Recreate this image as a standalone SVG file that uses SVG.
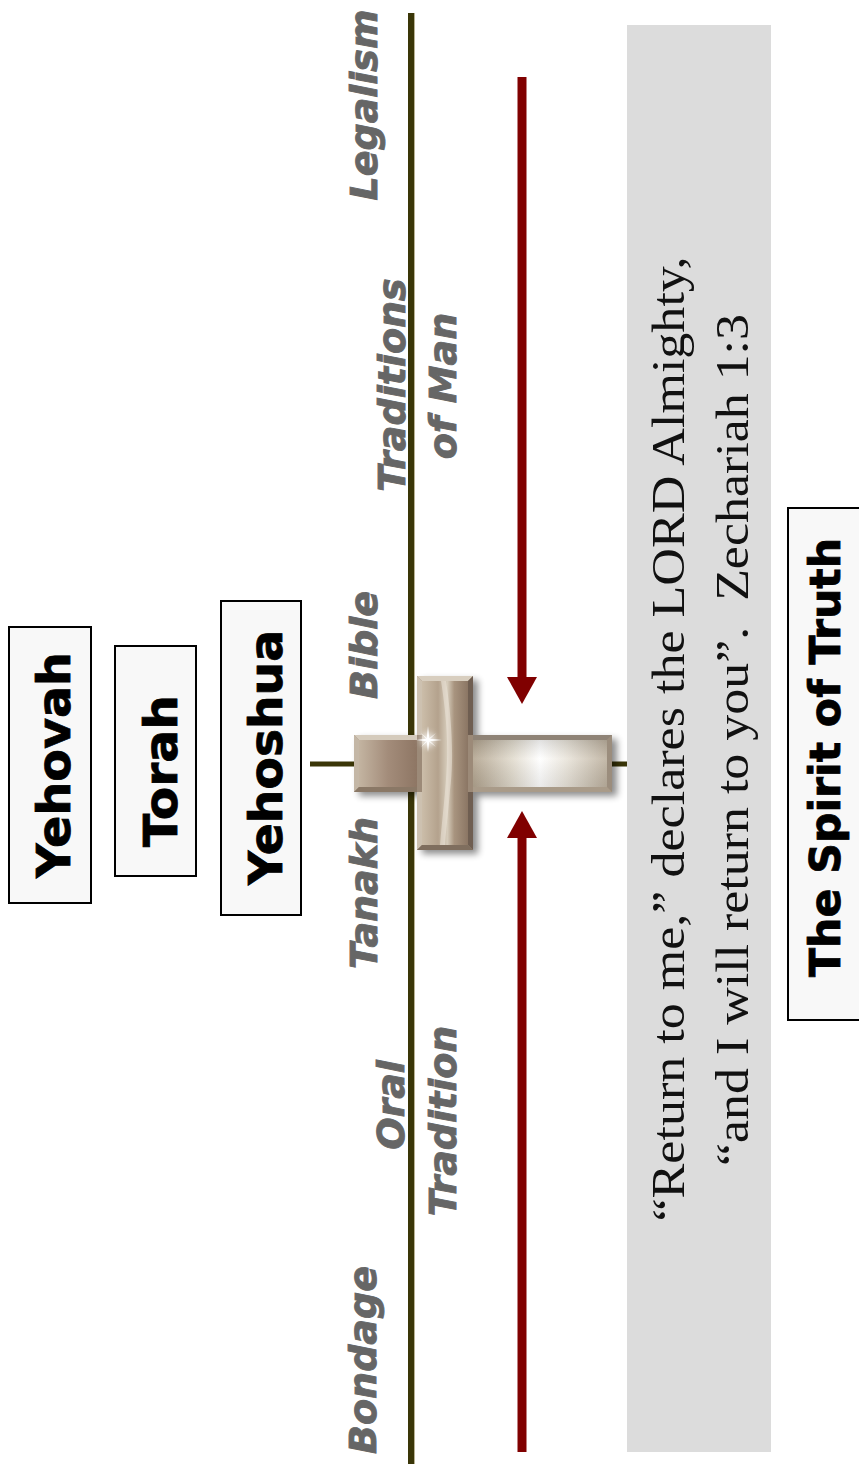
<svg xmlns="http://www.w3.org/2000/svg" width="859" height="1465" viewBox="0 0 859 1465">
<defs>
<style>
.box{fill:#f8f8f8;stroke:#000;stroke-width:2}
.bt{font-family:"DejaVu Sans",Verdana,sans-serif;font-weight:bold;font-size:47px;fill:#000;stroke:#000;stroke-width:0.8;text-anchor:middle}
.lbl{font-family:"DejaVu Sans",Verdana,sans-serif;font-weight:bold;font-style:italic;font-size:38px;fill:#666666;stroke:#666666;stroke-width:0.9;text-anchor:middle}
.q{font-family:"Liberation Serif","Times New Roman",serif;font-size:46px;fill:#111;text-anchor:middle}
.olive{stroke:#3a3608;fill:none}
.red{stroke:#800000;stroke-width:9;fill:none;marker-end:url(#ah)}
</style>
<marker id="ah" markerUnits="userSpaceOnUse" markerWidth="27" markerHeight="30" refX="0" refY="15" orient="auto" viewBox="0 0 27 30">
<path d="M0,0 L27,15 L0,30 z" fill="#800000"/>
</marker>
<filter id="sh" x="-20%" y="-20%" width="140%" height="140%"><feGaussianBlur stdDeviation="3.5"/></filter>
<filter id="glow" x="-100%" y="-100%" width="300%" height="300%"><feGaussianBlur stdDeviation="3"/></filter>
<linearGradient id="gLeft" x1="359" y1="0" x2="417" y2="0" gradientUnits="userSpaceOnUse">
<stop offset="0" stop-color="#c3b4a1"/><stop offset="0.5" stop-color="#a38c7a"/><stop offset="1" stop-color="#8e7664"/>
</linearGradient>
<linearGradient id="gRight" x1="473" y1="0" x2="607" y2="0" gradientUnits="userSpaceOnUse">
<stop offset="0" stop-color="#b3a590"/><stop offset="0.3" stop-color="#e2dccf"/><stop offset="0.5" stop-color="#ffffff"/><stop offset="0.7" stop-color="#e9e4da"/><stop offset="1" stop-color="#bdb19f"/>
</linearGradient>
<linearGradient id="gArmV" x1="0" y1="740" x2="0" y2="787" gradientUnits="userSpaceOnUse">
<stop offset="0" stop-color="#000" stop-opacity="0.12"/><stop offset="0.4" stop-color="#fff" stop-opacity="0.1"/><stop offset="1" stop-color="#000" stop-opacity="0.08"/>
</linearGradient>
<linearGradient id="gBar" x1="422" y1="0" x2="468" y2="0" gradientUnits="userSpaceOnUse">
<stop offset="0" stop-color="#cbbda9"/><stop offset="0.35" stop-color="#b4a28d"/><stop offset="0.55" stop-color="#d6ccbb"/><stop offset="0.7" stop-color="#a8947f"/><stop offset="1" stop-color="#8b7664"/>
</linearGradient>
</defs>
<rect width="859" height="1465" fill="#ffffff"/>
<rect id="quote-panel" x="627" y="25" width="144" height="1427" fill="#dcdcdc"/>
<g id="connectors">
<line class="olive" x1="411" y1="13" x2="411" y2="1464" stroke-width="6"/>
<line x1="414.5" y1="13" x2="414.5" y2="1464" stroke="#b9b394" stroke-width="1"/>
<line class="olive" x1="310" y1="764" x2="627" y2="764" stroke-width="5"/>
<path class="red" d="M522,77 V677"/>
<path class="red" d="M522,1452 V838"/>
</g>
<g id="node-yehovah">
<rect class="box" x="9" y="627" width="82" height="276"/>
<text class="bt" transform="translate(70,765) rotate(-90)" textLength="226" lengthAdjust="spacingAndGlyphs">Yehovah</text>
</g>
<g id="node-torah">
<rect class="box" x="115" y="646" width="81" height="230"/>
<text class="bt" transform="translate(177,771) rotate(-90)" textLength="152" lengthAdjust="spacingAndGlyphs">Torah</text>
</g>
<g id="node-yehoshua">
<rect class="box" x="221" y="601" width="80" height="314"/>
<text class="bt" transform="translate(282,757.5) rotate(-90)" textLength="255" lengthAdjust="spacingAndGlyphs">Yehoshua</text>
</g>
<g id="node-spirit">
<rect class="box" x="788" y="508" width="90" height="512"/>
<text class="bt" style="font-size:42px" transform="translate(840,757.5) rotate(-90)" textLength="439" lengthAdjust="spacingAndGlyphs">The Spirit of Truth</text>
</g>
<g id="labels">
<text class="lbl" transform="translate(377,105) rotate(-90)">Legalism</text>
<text class="lbl" transform="translate(405,385) rotate(-90)">Traditions</text>
<text class="lbl" transform="translate(456,386) rotate(-90)">of Man</text>
<text class="lbl" transform="translate(377,645) rotate(-90)">Bible</text>
<text class="lbl" transform="translate(377,893) rotate(-90)">Tanakh</text>
<text class="lbl" transform="translate(404,1105) rotate(-90)">Oral</text>
<text class="lbl" transform="translate(456,1121) rotate(-90)">Tradition</text>
<text class="lbl" transform="translate(376,1360) rotate(-90)">Bondage</text>
</g>
<g id="quote">
<text class="q" transform="translate(684,739) rotate(-90)" textLength="965" lengthAdjust="spacingAndGlyphs">“Return to me,” declares the LORD Almighty,</text>
<text class="q" transform="translate(748,740) rotate(-90)" textLength="852" lengthAdjust="spacingAndGlyphs">“and I will return to you”.&#160; Zechariah 1:3</text>
</g>
<g id="node-cross">
<polygon points="354,735 417,735 417,676 473,676 473,735 612,735 612,792 473,792 473,850 417,850 417,792 354,792" fill="#000" opacity="0.45" transform="translate(5,4)" filter="url(#sh)"/>
<polygon points="354,735 417,735 417,676 473,676 473,735 612,735 612,792 473,792 473,850 417,850 417,792 354,792" fill="#9c8a78"/>
<rect x="359" y="740" width="58" height="47" fill="url(#gLeft)"/>
<polygon points="354,735 417,735 417,740 359,740" fill="#d5cbbc"/>
<polygon points="354,735 359,740 359,787 354,792" fill="#c4b7a6"/>
<polygon points="354,792 359,787 417,787 417,792" fill="#8a7866"/>
<rect x="473" y="740" width="134" height="47" fill="url(#gRight)"/>
<rect x="473" y="740" width="134" height="47" fill="url(#gArmV)"/>
<polygon points="473,735 612,735 607,740 473,740" fill="#8f8376"/>
<polygon points="612,735 612,792 607,787 607,740" fill="#9b8d7d"/>
<polygon points="473,792 612,792 607,787 473,787" fill="#a99b89"/>
<rect x="422" y="681" width="46" height="164" fill="url(#gBar)"/>
<path d="M446,681 C452,720 454,760 450,790 C448,815 446,830 445,845 L440,845 C442,820 446,790 447,760 C448,730 444,700 441,681 Z" fill="#ece6da" opacity="0.55"/>
<polygon points="417,676 473,676 468,681 422,681" fill="#d8cebf"/>
<polygon points="417,676 422,681 422,735 417,735" fill="#cdc1b0"/>
<polygon points="417,792 422,792 422,845 417,850" fill="#cdc1b0"/>
<polygon points="473,676 473,735 468,735 468,681" fill="#6f5e51"/>
<polygon points="473,792 468,792 468,845 473,850" fill="#6f5e51"/>
<polygon points="417,850 473,850 468,845 422,845" fill="#7f6e5e"/>
<circle cx="428" cy="740" r="7" fill="#fff" opacity="0.8" filter="url(#glow)"/>
<path d="M428,726 L429.3,738.7 L442,740 L429.3,741.3 L428,752 L426.7,741.3 L416,740 L426.7,738.7 Z" fill="#fff"/>
<path d="M421,733 L428.6,739.4 L436,747 L427.4,740.6 Z M436,733 L428.6,740.6 L421,747 L427.4,739.4 Z" fill="#fff" opacity="0.8"/>
</g>
</svg>
